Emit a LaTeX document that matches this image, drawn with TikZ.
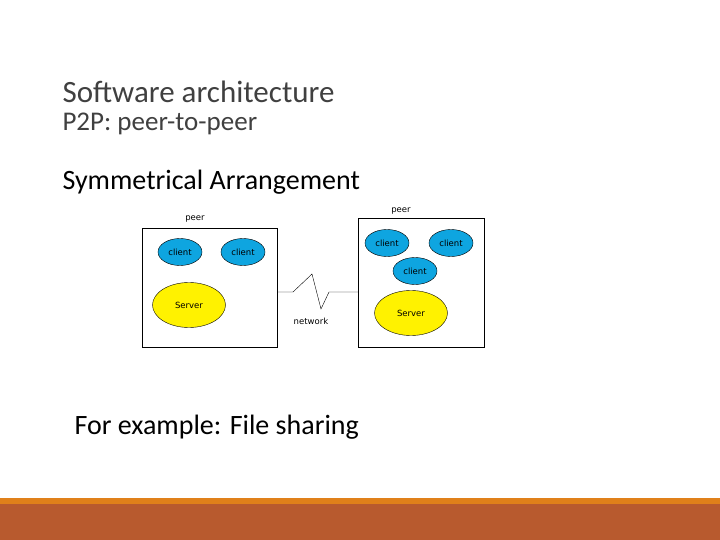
\documentclass[tikz,border=0pt]{standalone}
\usepackage{fontspec}
\setmainfont{Carlito}
\setsansfont{DejaVu Sans}
\usetikzlibrary{shapes.geometric}
\definecolor{titlegray}{HTML}{404040}
\definecolor{cliblue}{HTML}{0EA5E0}
\definecolor{rust}{HTML}{B85A2E}
\definecolor{barorange}{HTML}{E0801A}
\tikzset{
  client/.style={ellipse,draw,fill=cliblue,minimum width=44pt,minimum height=27pt,inner sep=0pt,font=\sffamily\fontsize{8.5}{9}\selectfont},
  server/.style={ellipse,draw,fill=yellow,minimum width=73pt,minimum height=45pt,inner sep=0pt,font=\sffamily\fontsize{8.5}{9}\selectfont},
  small/.style={font=\sffamily\fontsize{8.5}{9}\selectfont},
}
\begin{document}
\begin{tikzpicture}[x=1pt,y=-1pt]
\useasboundingbox (0,0) rectangle (720,540);

% slide frame
\fill[barorange] (0,498) rectangle (720,504);
\fill[rust] (0,504) rectangle (720,540);
\node[anchor=west,text=titlegray,font=\fontsize{31}{34}\selectfont] (title) at (59,92) {Software architecture};
\node[anchor=west,text=titlegray,font=\fontsize{27}{30}\selectfont] (sub) at (59,124) {P2P: peer-to-peer};
\node[anchor=west,font=\fontsize{28}{32}\selectfont] (sym) at (59,182) {Symmetrical Arrangement};
\node[anchor=west,font=\fontsize{28}{32}\selectfont] (ex) at (71,427) {For example: File sharing};

% peers
\draw (142,228) rectangle (277,347);
\draw (358,218) rectangle (484,347);
\node[small] (peerA) at (195,219) {peer};
\node[small] (peerB) at (401,211) {peer};
\node[client] (c1) at (180,252) {client};
\node[client] (c2) at (243,252) {client};
\node[server] (s1) at (189,305) {Server};
\node[client] (c3) at (387,243) {client};
\node[client] (c4) at (451,243) {client};
\node[client] (c5) at (415,271) {client};
\node[server] (s2) at (411,313) {Server};

% network
\coordinate (nA) at (277,292);
\coordinate (nB) at (358,292);
\draw (nA) -- (293,292) -- (312,274) -- (321,309) -- (329,292) -- (nB);
\node[small] (net) at (311,321) {network};
\end{tikzpicture}
\end{document}
